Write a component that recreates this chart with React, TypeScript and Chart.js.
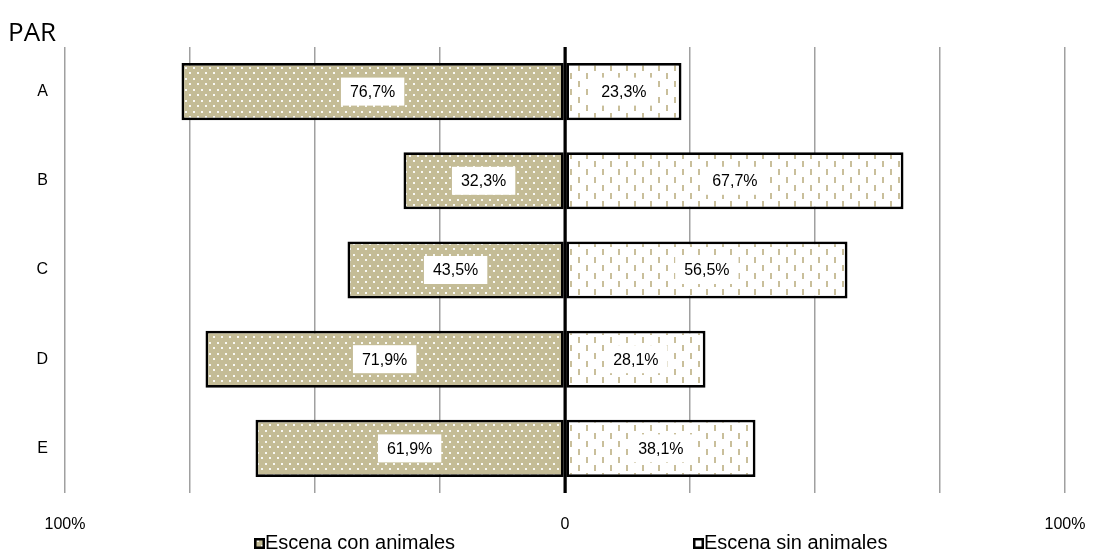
import React, { useEffect, useRef } from "react";
import { Chart, registerables } from "chart.js";

Chart.register(...registerables);

const chartTitle = "PAR";
const categories = ["A", "B", "C", "D", "E"];
const seriesNames = ["Escena con animales", "Escena sin animales"];
const conAnimales = [76.7, 32.3, 43.5, 71.9, 61.9];
const sinAnimales = [23.3, 67.7, 56.5, 28.1, 38.1];
const tickLabels: Record<number, string> = { [-100]: "100%", 0: "0", 100: "100%" };

const TAN = "#c4bc96";
const DASH = "#c9bf9b";
const SANS = "'Liberation Sans', Arial, sans-serif";

function makeDotPattern(ctx: CanvasRenderingContext2D) {
  const c = document.createElement("canvas");
  c.width = 8;
  c.height = 11;
  const g = c.getContext("2d")!;
  g.fillStyle = TAN;
  g.fillRect(0, 0, 8, 11);
  g.fillStyle = "rgba(255,255,255,0.9)";
  g.fillRect(1, 1, 2, 2);
  g.fillRect(5, 6, 2, 2);
  return ctx.createPattern(c, "repeat")!;
}

function makeDashPattern(ctx: CanvasRenderingContext2D) {
  const c = document.createElement("canvas");
  c.width = 16;
  c.height = 16;
  const g = c.getContext("2d")!;
  g.fillStyle = "#ffffff";
  g.fillRect(0, 0, 16, 16);
  g.fillStyle = DASH;
  g.fillRect(2, 1, 2, 6);
  g.fillRect(10, 9, 2, 6);
  return ctx.createPattern(c, "repeat")!;
}

const fmt = (v: number) => Math.abs(v).toFixed(1).replace(".", ",") + "%";

export default function App() {
  const ref = useRef<HTMLCanvasElement | null>(null);

  useEffect(() => {
    const canvas = ref.current!;
    const ctx = canvas.getContext("2d")!;
    const dots = makeDotPattern(ctx);
    const dashes = makeDashPattern(ctx);

    const labelPlugin = {
      id: "valueBoxes",
      afterDatasetsDraw(chart: any) {
        const c = chart.ctx;
        const area = chart.chartArea;
        c.save();
        // zero line over the bars' inner edges
        const x0 = chart.scales.x.getPixelForValue(0);
        c.strokeStyle = "#000";
        c.lineWidth = 3;
        c.beginPath();
        c.moveTo(x0, area.top);
        c.lineTo(x0, area.bottom);
        c.stroke();

        c.font = "16px " + SANS;
        c.textAlign = "center";
        c.textBaseline = "middle";
        chart.data.datasets.forEach((ds: any, di: number) => {
          const meta = chart.getDatasetMeta(di);
          meta.data.forEach((el: any, i: number) => {
            const text = fmt(ds.data[i]);
            const cx = (el.x + el.base) / 2;
            const cy = el.y;
            const w = c.measureText(text).width + 18;
            const h = 28;
            c.fillStyle = "#ffffff";
            c.fillRect(cx - w / 2, cy - h / 2, w, h);
            c.fillStyle = "#000000";
            c.fillText(text, cx, cy + 1);
          });
        });
        c.restore();
      },
    };

    const decorPlugin = {
      id: "decor",
      afterDraw(chart: any) {
        const c = chart.ctx;
        c.save();
        c.font = "26px 'Open Sans', sans-serif";
        c.fillStyle = "#000";
        c.textAlign = "left";
        c.textBaseline = "alphabetic";
        c.fillText(chartTitle, 8, 41);
        const items = [
          { x: 254, fill: dots, label: seriesNames[0] },
          { x: 693, fill: "#ffffff", label: seriesNames[1] },
        ];
        c.font = "20px " + SANS;
        items.forEach((it) => {
          c.fillStyle = "#000";
          c.fillRect(it.x, 538, 11, 11);
          c.fillStyle = it.fill;
          c.fillRect(it.x + 2.5, 540.5, 6, 6);
          c.fillStyle = "#000";
          c.fillText(it.label, it.x + 11, 549);
        });
        c.restore();
      },
    };

    const chart = new Chart(canvas, {
      type: "bar",
      data: {
        labels: categories,
        datasets: [
          {
            label: seriesNames[0],
            data: conAnimales.map((v) => -v),
            backgroundColor: dots,
            borderColor: "#000",
            borderWidth: 2.75,
            borderSkipped: false,
            inflateAmount: 0,
            barPercentage: 0.64,
            categoryPercentage: 1,
          },
          {
            label: seriesNames[1],
            data: sinAnimales,
            backgroundColor: dashes,
            borderColor: "#000",
            borderWidth: 2.75,
            borderSkipped: false,
            inflateAmount: 0,
            barPercentage: 0.64,
            categoryPercentage: 1,
          },
        ],
      },
      options: {
        indexAxis: "y",
        animation: false,
        responsive: true,
        maintainAspectRatio: false,
        layout: { padding: { top: 47, right: 28, left: 0, bottom: 0 } },
        plugins: {
          legend: { display: false },
          tooltip: { enabled: false },
          title: { display: false },
        },
        scales: {
          x: {
            stacked: true,
            min: -100,
            max: 100,
            afterFit: (s: any) => {
              s.height = 58;
              s.paddingLeft = 0;
              s.paddingRight = 0;
            },
            border: { display: false },
            grid: {
              drawTicks: false,
              color: (ctx: any) => (ctx.tick && ctx.tick.value === 0 ? "#000000" : "#a0a0a0"),
              lineWidth: (ctx: any) => (ctx.tick && ctx.tick.value === 0 ? 2.5 : 1.5),
            },
            ticks: {
              stepSize: 25,
              autoSkip: false,
              maxRotation: 0,
              padding: 22,
              color: "#000",
              font: { size: 16, family: SANS },
              callback: (v: any) => tickLabels[Number(v)] ?? "",
            },
          },
          y: {
            stacked: true,
            afterFit: (s: any) => {
              s.width = 65;
            },
            border: { display: false },
            grid: { display: false, drawTicks: false },
            ticks: {
              padding: 17,
              color: "#000",
              font: { size: 16, family: SANS },
            },
          },
        },
      },
      plugins: [labelPlugin, decorPlugin],
    });

    return () => chart.destroy();
  }, []);

  return (
    <div style={{ position: "absolute", left: 0, top: 0, width: 1093, height: 551 }}>
      <canvas ref={ref} />
    </div>
  );
}
